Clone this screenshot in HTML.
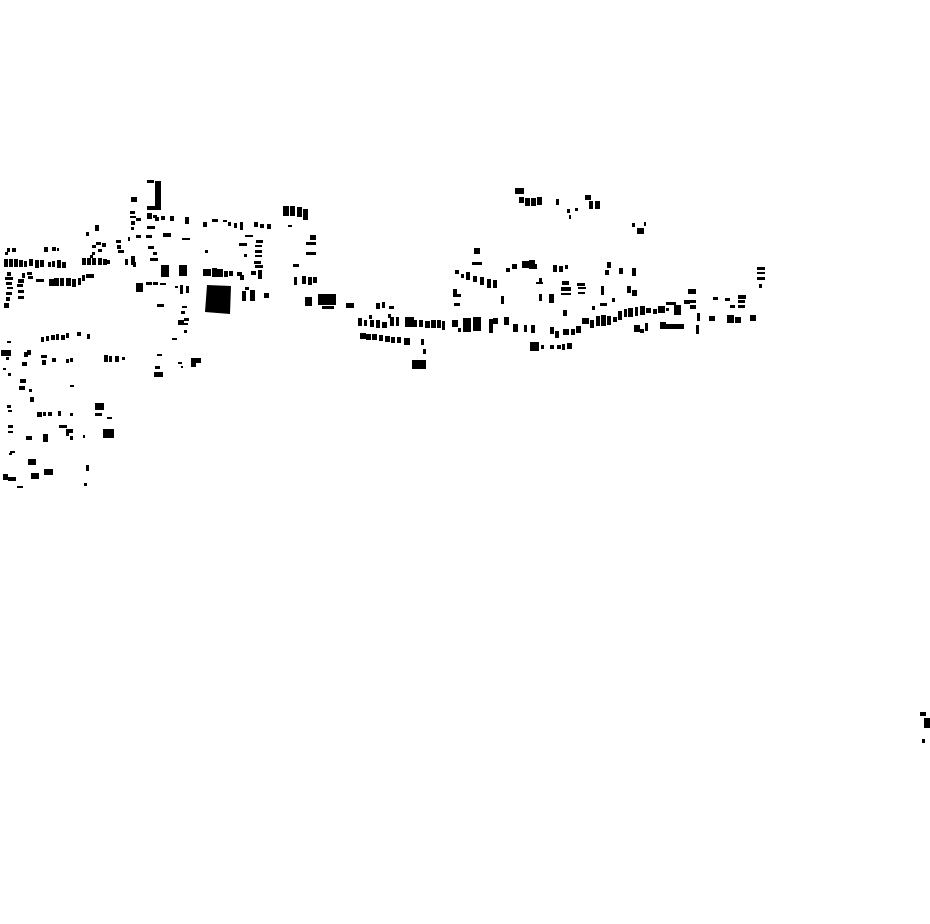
<!DOCTYPE html>
<html><head><meta charset="utf-8"><style>html,body{margin:0;padding:0;background:#fff;width:930px;height:924px;overflow:hidden}svg{display:block}</style></head><body>
<svg width="930" height="924" viewBox="0 0 930 924" xmlns="http://www.w3.org/2000/svg" fill="#000">
<rect x="147" y="180" width="7" height="3"/><rect x="155" y="181" width="6" height="29"/><rect x="131" y="197" width="6" height="5"/><rect x="147" y="206" width="8" height="4"/>
<rect x="283" y="206" width="6" height="10"/><rect x="290" y="206" width="5" height="10"/><rect x="297" y="207" width="5" height="10"/><rect x="303" y="209" width="5" height="11"/>
<rect x="130" y="211" width="5" height="3"/><rect x="130" y="216" width="6" height="2"/><rect x="131" y="221" width="4" height="4"/><rect x="136" y="218" width="5" height="3"/><rect x="131" y="227" width="3" height="3"/><rect x="136" y="235" width="5" height="3"/>
<rect x="147" y="213" width="5" height="6"/><rect x="153" y="215" width="4" height="3"/><rect x="155" y="217" width="4" height="4"/><rect x="161" y="216" width="4" height="4"/><rect x="170" y="216" width="4" height="5"/><rect x="185" y="217" width="4" height="7"/>
<rect x="147" y="226" width="8" height="3"/><rect x="146" y="235" width="6" height="3"/><rect x="163" y="233" width="8" height="4"/><rect x="128" y="237" width="2" height="4"/>
<rect x="203" y="222" width="4" height="5"/><rect x="212" y="219" width="6" height="3"/><rect x="223" y="220" width="4" height="2"/><rect x="228" y="222" width="3" height="4"/><rect x="234" y="223" width="3" height="5"/><rect x="240" y="222" width="3" height="8"/><rect x="254" y="222" width="4" height="5"/><rect x="260" y="224" width="4" height="4"/><rect x="267" y="224" width="4" height="5"/><rect x="288" y="225" width="4" height="2"/>
<rect x="86" y="232" width="3" height="4"/><rect x="95" y="225" width="4" height="6"/><rect x="182" y="238" width="8" height="2"/>
<rect x="148" y="246" width="6" height="3"/><rect x="153" y="252" width="4" height="3"/><rect x="150" y="258" width="8" height="3"/>
<rect x="92" y="245" width="4" height="3"/><rect x="96" y="242" width="5" height="3"/><rect x="102" y="243" width="4" height="4"/><rect x="98" y="249" width="4" height="3"/><rect x="92" y="252" width="3" height="3"/><rect x="116" y="240" width="5" height="3"/><rect x="117" y="245" width="4" height="4"/><rect x="118" y="250" width="6" height="3"/>
<rect x="90" y="255" width="3" height="3"/><rect x="82" y="258" width="4" height="7"/><rect x="87" y="258" width="4" height="7"/><rect x="92" y="258" width="4" height="7"/><rect x="98" y="258" width="4" height="7"/><rect x="103" y="259" width="4" height="6"/><rect x="107" y="260" width="3" height="4"/>
<rect x="125" y="259" width="3" height="6"/><rect x="131" y="256" width="4" height="9"/><rect x="133" y="262" width="3" height="5"/>
<rect x="7" y="248" width="3" height="4"/><rect x="12" y="248" width="4" height="4"/><rect x="5" y="252" width="3" height="3"/><rect x="44" y="247" width="4" height="5"/><rect x="52" y="247" width="4" height="4"/><rect x="57" y="248" width="2" height="3"/>
<rect x="4" y="259" width="4" height="8"/><rect x="9" y="259" width="4" height="8"/><rect x="14" y="259" width="4" height="8"/><rect x="19" y="260" width="4" height="7"/><rect x="24" y="261" width="3" height="6"/><rect x="29" y="259" width="4" height="7"/><rect x="35" y="260" width="4" height="8"/><rect x="40" y="260" width="4" height="7"/><rect x="52" y="261" width="3" height="6"/><rect x="57" y="260" width="4" height="8"/><rect x="62" y="262" width="4" height="6"/><rect x="48" y="262" width="3" height="5"/>
<rect x="7" y="272" width="4" height="4"/><rect x="5" y="277" width="8" height="3"/><rect x="6" y="282" width="6" height="3"/><rect x="7" y="287" width="6" height="2"/><rect x="6" y="292" width="6" height="3"/><rect x="6" y="297" width="4" height="4"/><rect x="4" y="303" width="5" height="5"/><rect x="18" y="279" width="6" height="4"/><rect x="17" y="284" width="6" height="3"/><rect x="18" y="290" width="6" height="3"/><rect x="18" y="296" width="6" height="3"/>
<rect x="22" y="273" width="3" height="5"/><rect x="27" y="272" width="5" height="3"/><rect x="28" y="276" width="5" height="3"/><rect x="36" y="279" width="8" height="3"/><rect x="49" y="279" width="5" height="7"/><rect x="54" y="278" width="5" height="8"/><rect x="60" y="278" width="4" height="8"/><rect x="66" y="278" width="5" height="8"/><rect x="72" y="279" width="4" height="8"/><rect x="78" y="278" width="3" height="7"/><rect x="82" y="275" width="3" height="6"/><rect x="86" y="274" width="8" height="4"/>
<rect x="161" y="265" width="8" height="12"/><rect x="179" y="265" width="8" height="11"/><rect x="136" y="283" width="7" height="9"/><rect x="146" y="282" width="6" height="3"/><rect x="153" y="282" width="5" height="3"/><rect x="160" y="283" width="6" height="2"/><rect x="175" y="286" width="3" height="2"/><rect x="180" y="285" width="3" height="9"/><rect x="186" y="286" width="3" height="7"/>
<rect x="203" y="269" width="8" height="7"/><rect x="212" y="268" width="5" height="9"/><rect x="217" y="269" width="6" height="8"/><rect x="224" y="271" width="4" height="6"/><rect x="229" y="271" width="4" height="5"/><rect x="237" y="272" width="5" height="4"/><rect x="240" y="275" width="4" height="5"/><rect x="251" y="271" width="5" height="4"/><rect x="258" y="270" width="4" height="9"/>
<rect x="245" y="235" width="8" height="2"/><rect x="239" y="243" width="8" height="3"/><rect x="244" y="254" width="3" height="3"/><rect x="256" y="240" width="7" height="3"/><rect x="255" y="245" width="7" height="2"/><rect x="255" y="250" width="7" height="3"/><rect x="255" y="255" width="7" height="2"/><rect x="254" y="261" width="7" height="3"/><rect x="255" y="265" width="8" height="3"/><rect x="205" y="250" width="3" height="3"/>
<polygon points="207,285 231,286 230,314 205,312"/><rect x="242" y="291" width="4" height="10"/><rect x="250" y="290" width="5" height="11"/><rect x="264" y="293" width="5" height="5"/><rect x="245" y="287" width="4" height="3"/>
<rect x="293" y="264" width="6" height="3"/><rect x="310" y="235" width="6" height="5"/><rect x="306" y="242" width="10" height="3"/><rect x="306" y="252" width="10" height="3"/>
<rect x="294" y="277" width="3" height="8"/><rect x="302" y="276" width="4" height="8"/><rect x="308" y="277" width="4" height="8"/><rect x="313" y="277" width="4" height="6"/><rect x="305" y="297" width="7" height="9"/>
<rect x="157" y="304" width="7" height="3"/><rect x="182" y="306" width="5" height="2"/><rect x="181" y="311" width="4" height="3"/><rect x="178" y="320" width="6" height="5"/><rect x="184" y="318" width="5" height="3"/><rect x="184" y="323" width="4" height="2"/><rect x="184" y="330" width="3" height="3"/><rect x="172" y="338" width="5" height="2"/>
<rect x="7" y="341" width="4" height="2"/><rect x="1" y="350" width="10" height="6"/><rect x="6" y="357" width="3" height="3"/><rect x="24" y="352" width="4" height="5"/><rect x="27" y="350" width="4" height="5"/><rect x="22" y="362" width="5" height="4"/><rect x="41" y="337" width="3" height="5"/><rect x="46" y="336" width="3" height="5"/><rect x="51" y="335" width="4" height="5"/><rect x="56" y="334" width="3" height="6"/><rect x="61" y="335" width="4" height="5"/><rect x="66" y="333" width="3" height="5"/><rect x="77" y="332" width="4" height="4"/><rect x="87" y="334" width="3" height="5"/>
<rect x="41" y="355" width="6" height="3"/><rect x="42" y="360" width="4" height="5"/><rect x="52" y="358" width="4" height="4"/><rect x="66" y="359" width="3" height="4"/><rect x="70" y="358" width="3" height="4"/><rect x="104" y="355" width="4" height="7"/><rect x="109" y="356" width="3" height="6"/><rect x="115" y="356" width="4" height="6"/><rect x="122" y="357" width="3" height="3"/><rect x="70" y="385" width="4" height="2"/><rect x="8" y="373" width="3" height="3"/><rect x="3" y="368" width="3" height="2"/>
<rect x="20" y="379" width="6" height="4"/><rect x="19" y="386" width="6" height="4"/><rect x="29" y="389" width="3" height="3"/><rect x="30" y="397" width="4" height="5"/>
<rect x="157" y="354" width="5" height="2"/><rect x="155" y="366" width="5" height="3"/><rect x="154" y="372" width="9" height="5"/><rect x="178" y="362" width="4" height="2"/><rect x="181" y="366" width="2" height="2"/><rect x="191" y="358" width="10" height="5"/><rect x="191" y="363" width="5" height="4"/>
<rect x="7" y="405" width="4" height="3"/><rect x="8" y="410" width="4" height="2"/><rect x="95" y="403" width="9" height="7"/><rect x="95" y="413" width="7" height="3"/><rect x="107" y="417" width="5" height="2"/><rect x="37" y="412" width="5" height="5"/><rect x="43" y="412" width="3" height="4"/><rect x="48" y="412" width="4" height="4"/><rect x="58" y="411" width="3" height="5"/><rect x="70" y="413" width="3" height="3"/>
<rect x="8" y="425" width="5" height="3"/><rect x="8" y="431" width="5" height="2"/><rect x="59" y="425" width="8" height="3"/><rect x="66" y="429" width="7" height="4"/><rect x="66" y="433" width="3" height="3"/><rect x="70" y="436" width="3" height="4"/><rect x="83" y="435" width="2" height="3"/><rect x="103" y="429" width="11" height="9"/><rect x="26" y="436" width="6" height="4"/><rect x="43" y="434" width="5" height="8"/>
<rect x="9" y="453" width="3" height="2"/><rect x="10" y="451" width="5" height="2"/><rect x="28" y="459" width="8" height="6"/><rect x="3" y="474" width="5" height="6"/><rect x="8" y="477" width="8" height="4"/><rect x="31" y="473" width="8" height="6"/><rect x="44" y="469" width="9" height="6"/><rect x="86" y="465" width="3" height="6"/><rect x="17" y="486" width="6" height="2"/><rect x="84" y="483" width="3" height="3"/>
<rect x="515" y="188" width="9" height="6"/><rect x="519" y="197" width="5" height="6"/><rect x="525" y="198" width="5" height="8"/><rect x="531" y="198" width="5" height="8"/><rect x="537" y="197" width="5" height="8"/><rect x="556" y="199" width="3" height="6"/><rect x="585" y="195" width="6" height="5"/><rect x="589" y="201" width="4" height="8"/><rect x="595" y="201" width="5" height="8"/>
<rect x="567" y="209" width="3" height="4"/><rect x="575" y="208" width="3" height="3"/><rect x="569" y="215" width="2" height="4"/><rect x="632" y="223" width="3" height="4"/><rect x="637" y="228" width="7" height="6"/><rect x="644" y="222" width="2" height="4"/>
<rect x="318" y="294" width="18" height="11"/><rect x="322" y="306" width="12" height="3"/><rect x="346" y="303" width="8" height="5"/><rect x="376" y="303" width="4" height="6"/><rect x="382" y="302" width="3" height="6"/><rect x="389" y="306" width="5" height="3"/>
<rect x="358" y="318" width="4" height="8"/><rect x="364" y="320" width="3" height="6"/><rect x="369" y="315" width="3" height="4"/><rect x="370" y="320" width="4" height="7"/><rect x="376" y="320" width="4" height="8"/><rect x="382" y="322" width="5" height="6"/><rect x="388" y="314" width="3" height="4"/><rect x="390" y="317" width="4" height="9"/><rect x="396" y="317" width="3" height="9"/><rect x="405" y="317" width="9" height="10"/><rect x="414" y="320" width="3" height="7"/><rect x="419" y="320" width="4" height="7"/><rect x="425" y="321" width="5" height="7"/><rect x="431" y="320" width="5" height="8"/><rect x="437" y="320" width="4" height="8"/><rect x="442" y="321" width="3" height="9"/>
<rect x="360" y="333" width="6" height="6"/><rect x="366" y="334" width="5" height="6"/><rect x="372" y="334" width="5" height="6"/><rect x="379" y="335" width="4" height="6"/><rect x="385" y="336" width="5" height="6"/><rect x="391" y="337" width="4" height="6"/><rect x="397" y="337" width="4" height="6"/><rect x="404" y="338" width="6" height="7"/><rect x="421" y="339" width="3" height="6"/><rect x="423" y="349" width="3" height="5"/><rect x="412" y="360" width="14" height="9"/>
<rect x="452" y="320" width="6" height="7"/><rect x="458" y="328" width="3" height="4"/><rect x="463" y="318" width="8" height="14"/><rect x="473" y="317" width="8" height="14"/><rect x="489" y="319" width="4" height="14"/><rect x="493" y="318" width="5" height="6"/><rect x="504" y="317" width="5" height="8"/><rect x="513" y="324" width="5" height="8"/><rect x="524" y="325" width="3" height="7"/><rect x="531" y="325" width="4" height="8"/>
<rect x="474" y="248" width="6" height="6"/><rect x="472" y="262" width="10" height="3"/><rect x="455" y="270" width="4" height="4"/><rect x="461" y="274" width="3" height="4"/><rect x="466" y="272" width="4" height="8"/><rect x="473" y="276" width="4" height="6"/><rect x="480" y="277" width="4" height="8"/><rect x="487" y="279" width="4" height="9"/><rect x="493" y="280" width="4" height="8"/><rect x="453" y="289" width="4" height="5"/><rect x="453" y="294" width="8" height="3"/><rect x="454" y="303" width="6" height="3"/>
<rect x="506" y="268" width="4" height="4"/><rect x="512" y="264" width="5" height="5"/><rect x="522" y="261" width="7" height="7"/><rect x="529" y="260" width="6" height="9"/><rect x="533" y="264" width="4" height="5"/><rect x="553" y="265" width="4" height="7"/><rect x="559" y="266" width="4" height="6"/><rect x="565" y="265" width="3" height="4"/><rect x="539" y="278" width="3" height="4"/><rect x="536" y="282" width="7" height="2"/><rect x="501" y="296" width="3" height="8"/><rect x="539" y="294" width="3" height="7"/><rect x="549" y="294" width="5" height="9"/>
<rect x="562" y="281" width="7" height="4"/><rect x="561" y="287" width="10" height="4"/><rect x="561" y="293" width="10" height="2"/><rect x="577" y="283" width="8" height="3"/><rect x="578" y="287" width="8" height="2"/><rect x="578" y="292" width="7" height="2"/><rect x="563" y="310" width="4" height="6"/><rect x="601" y="286" width="3" height="9"/><rect x="607" y="262" width="4" height="6"/><rect x="605" y="270" width="4" height="5"/><rect x="619" y="268" width="4" height="6"/><rect x="632" y="268" width="4" height="8"/><rect x="627" y="286" width="4" height="7"/><rect x="632" y="290" width="5" height="6"/><rect x="612" y="298" width="3" height="4"/><rect x="592" y="306" width="3" height="4"/><rect x="600" y="303" width="7" height="3"/>
<rect x="530" y="342" width="9" height="9"/><rect x="541" y="345" width="3" height="4"/><rect x="550" y="345" width="4" height="4"/><rect x="557" y="345" width="4" height="4"/><rect x="562" y="344" width="3" height="6"/><rect x="567" y="343" width="5" height="6"/>
<rect x="550" y="327" width="4" height="7"/><rect x="555" y="331" width="4" height="7"/><rect x="563" y="329" width="6" height="6"/><rect x="571" y="329" width="4" height="6"/><rect x="576" y="326" width="5" height="7"/><rect x="582" y="318" width="7" height="6"/><rect x="590" y="320" width="4" height="8"/><rect x="596" y="316" width="4" height="10"/><rect x="601" y="315" width="5" height="11"/><rect x="607" y="316" width="4" height="9"/><rect x="613" y="317" width="4" height="5"/><rect x="618" y="311" width="4" height="9"/><rect x="624" y="309" width="3" height="8"/><rect x="628" y="308" width="5" height="9"/><rect x="635" y="307" width="3" height="9"/><rect x="640" y="306" width="5" height="9"/><rect x="646" y="308" width="5" height="5"/><rect x="653" y="309" width="4" height="5"/><rect x="658" y="306" width="7" height="7"/><rect x="666" y="308" width="3" height="3"/><rect x="674" y="305" width="7" height="10"/><rect x="666" y="302" width="10" height="3"/><rect x="684" y="300" width="6" height="4"/><rect x="690" y="305" width="6" height="4"/><rect x="688" y="289" width="8" height="5"/><rect x="690" y="300" width="6" height="3"/>
<rect x="634" y="325" width="6" height="7"/><rect x="640" y="329" width="4" height="4"/><rect x="645" y="323" width="3" height="8"/><rect x="660" y="322" width="6" height="7"/><rect x="666" y="324" width="18" height="5"/><rect x="696" y="325" width="3" height="9"/><rect x="697" y="313" width="3" height="8"/><rect x="709" y="316" width="6" height="5"/><rect x="713" y="297" width="5" height="3"/><rect x="725" y="298" width="5" height="3"/><rect x="730" y="305" width="5" height="3"/><rect x="727" y="315" width="7" height="8"/><rect x="735" y="317" width="6" height="6"/><rect x="750" y="315" width="6" height="6"/><rect x="738" y="295" width="8" height="4"/><rect x="738" y="300" width="7" height="3"/><rect x="738" y="305" width="7" height="3"/>
<rect x="757" y="267" width="8" height="3"/><rect x="757" y="272" width="8" height="2"/><rect x="757" y="277" width="8" height="3"/><rect x="759" y="284" width="3" height="4"/>
<rect x="920" y="712" width="6" height="4"/><rect x="924" y="718" width="6" height="10"/><rect x="922" y="739" width="3" height="4"/>
</svg>
</body></html>
